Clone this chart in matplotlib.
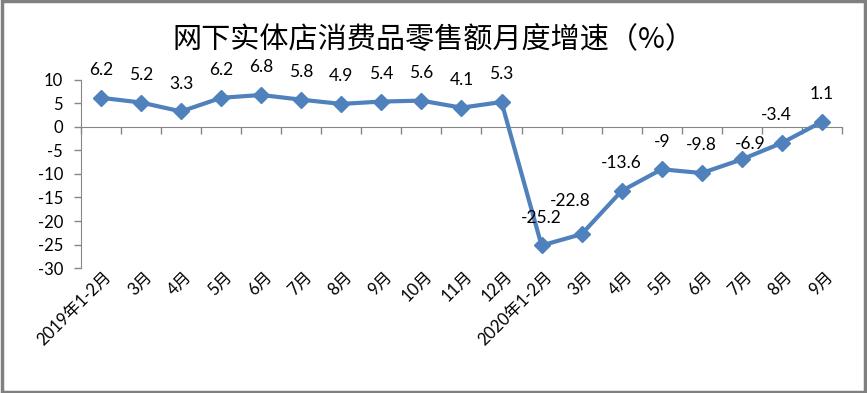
import matplotlib
matplotlib.use("Agg")
from matplotlib import pyplot as plt
from matplotlib.patches import Rectangle

plt.rcParams['font.family'] = ['Lato', 'Noto Sans CJK SC', 'DejaVu Sans']

months = ["2019年1-2月", "3月", "4月", "5月", "6月", "7月", "8月", "9月", "10月", "11月", "12月",
          "2020年1-2月", "3月", "4月", "5月", "6月", "7月", "8月", "9月"]
growth = [6.2, 5.2, 3.3, 6.2, 6.8, 5.8, 4.9, 5.4, 5.6, 4.1, 5.3,
          -25.2, -22.8, -13.6, -9, -9.8, -6.9, -3.4, 1.1]
yticks = [-30, -25, -20, -15, -10, -5, 0, 5, 10]

# label offsets in points (dx, dy), most sit straight above the marker
offsets = {12: (-8, 24), 16: (6, 11), 17: (-4, 20)}

fig = plt.figure(figsize=(8.67, 3.93), dpi=100)
ax = fig.add_axes([0.0934, 0.318, 0.8777, 0.4786])

x = list(range(len(growth)))
ax.plot(x, growth, "-", color="#4F81BD", lw=3, marker="D", ms=8.5,
        markeredgecolor="#4F81BD", markerfacecolor="#4F81BD", zorder=3)

for i, v in enumerate(growth):
    dx, dy = offsets.get(i, (0, 20))
    ax.annotate(f"{v:g}", (i, v), xytext=(dx, dy), textcoords="offset points",
                ha="center", va="center", fontsize=12.5, color="black")

ax.set_xlim(-0.5, len(growth) - 0.5)
ax.set_ylim(-30, 10)
ax.set_yticks(yticks)
ax.set_yticklabels([str(t) for t in yticks], fontsize=12)
ax.tick_params(axis="y", length=5, width=1, color="#868686", pad=8)

ax.spines["top"].set_visible(False)
ax.spines["right"].set_visible(False)
ax.spines["left"].set_color("#868686")
ax.spines["bottom"].set_color("#868686")
ax.spines["bottom"].set_position(("data", 0))

ax.set_xticks([i - 0.5 for i in range(len(growth) + 1)])
ax.set_xticklabels([])
ax.tick_params(axis="x", direction="out", length=5, width=1, color="#868686")

for i, lab in enumerate(months):
    ax.text(i + 0.2, -0.03, lab, transform=ax.get_xaxis_transform(),
            rotation=45, rotation_mode="anchor", ha="right", va="center",
            fontsize=12)

fig.text(0.5, 0.898, "网下实体店消费品零售额月度增速（%）", ha="center", va="center",
         fontsize=21, fontweight="medium", family=["Noto Sans CJK SC", "DejaVu Sans"])

fig.patches.append(Rectangle((0.002, 0.003), 0.996, 0.994, transform=fig.transFigure,
                             fill=False, edgecolor="#808080", lw=2.5))

fig.savefig("out.png", dpi=100)
